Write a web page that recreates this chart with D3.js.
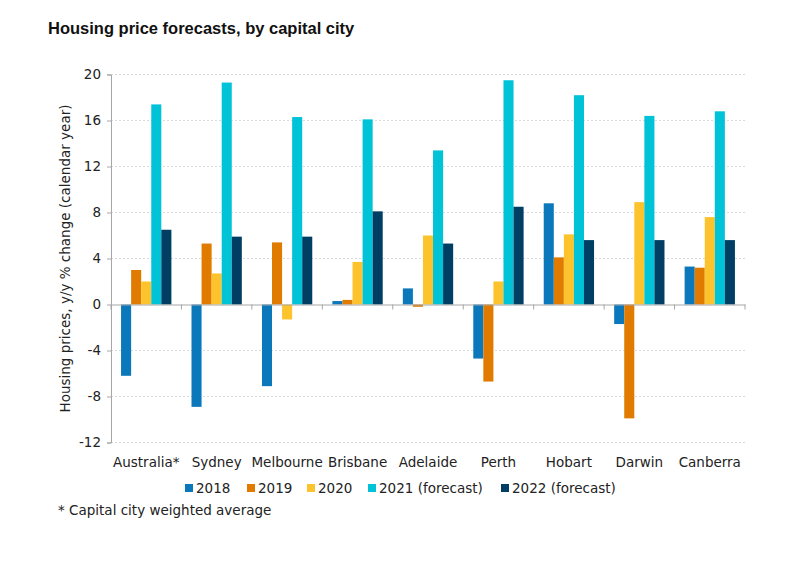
<!DOCTYPE html>
<html>
<head>
<meta charset="utf-8">
<script src="https://cdn.jsdelivr.net/npm/d3@7"></script>
<style>
body { margin: 0; background: #fff; }
svg { display: block; }
</style>
</head>
<body>
<div id="chart"></div>
<script>
var cities = ["Australia*", "Sydney", "Melbourne", "Brisbane", "Adelaide", "Perth", "Hobart", "Darwin", "Canberra"];
var seriesNames = ["2018", "2019", "2020", "2021 (forecast)", "2022 (forecast)"];
var v2018 = [-6.2, -8.9, -7.1, 0.3, 1.4, -4.7, 8.8, -1.7, 3.3];
var v2019 = [3.0, 5.3, 5.4, 0.4, -0.2, -6.7, 4.1, -9.9, 3.2];
var v2020 = [2.0, 2.7, -1.3, 3.7, 6.0, 2.0, 6.1, 8.9, 7.6];
var v2021 = [17.4, 19.3, 16.3, 16.1, 13.4, 19.5, 18.2, 16.4, 16.8];
var v2022 = [6.5, 5.9, 5.9, 8.1, 5.3, 8.5, 5.6, 5.6, 5.6];
var yTicks = [-12, -8, -4, 0, 4, 8, 12, 16, 20];
var colors = ["#0a78bb", "#e07b00", "#fcc32d", "#00c3d7", "#003f63"];

var allValues = [v2018, v2019, v2020, v2021, v2022];

var svgWidth = 804;
var svgHeight = 561;
var font = "'DejaVu Sans', Verdana, sans-serif";
var fontSize = "13.5px";

var svg = d3.select("#chart")
    .append("svg")
    .attr("width", svgWidth)
    .attr("height", svgHeight);

var plotLeft = 111, plotRight = 745, plotTop = 74.5, plotBottom = 442.5;

var x0 = d3.scaleBand()
    .domain(cities)
    .range([plotLeft, plotRight])
    .paddingInner(0)
    .paddingOuter(0);

var x1 = d3.scaleBand()
    .domain(seriesNames)
    .range([0, x0.bandwidth()])
    .paddingInner(0)
    .paddingOuter(1);

var y = d3.scaleLinear()
    .domain([-12, 20])
    .range([plotBottom, plotTop]);

// title
svg.append("text")
    .attr("x", 48)
    .attr("y", 34)
    .style("font-family", "'Liberation Sans', Arial, sans-serif")
    .style("font-weight", "bold")
    .style("font-size", "16.5px")
    .attr("fill", "#111")
    .text("Housing price forecasts, by capital city");

// gridlines
svg.append("g")
    .selectAll("line")
    .data(yTicks.filter(d => d !== 0))
    .enter()
    .append("line")
    .attr("x1", plotLeft)
    .attr("x2", plotRight)
    .attr("y1", d => y(d))
    .attr("y2", d => y(d))
    .attr("stroke", "#d6dbe2")
    .attr("stroke-width", 1)
    .attr("stroke-dasharray", "2,2");

// bars
var groups = svg.append("g")
    .selectAll("g")
    .data(cities)
    .enter()
    .append("g")
    .attr("transform", d => `translate(${x0(d)},0)`);

groups.selectAll("rect")
    .data((c, i) => seriesNames.map((s, j) => ({series: s, value: allValues[j][i], idx: j})))
    .enter()
    .append("rect")
    .attr("x", d => x1(d.series))
    .attr("width", x1.bandwidth())
    .attr("y", d => y(Math.max(0, d.value)))
    .attr("height", d => Math.abs(y(d.value) - y(0)))
    .attr("fill", d => colors[d.idx]);

// y axis
var leftAxis = d3.axisLeft(y)
    .tickValues(yTicks)
    .tickSize(4)
    .tickPadding(6)
    .tickFormat(d => String(d));

var yAxisG = svg.append("g")
    .attr("transform", `translate(${plotLeft},0)`)
    .call(leftAxis);
yAxisG.select(".domain").attr("stroke", "#a6a6a6");
yAxisG.selectAll(".tick line").attr("stroke", "#a6a6a6");
yAxisG.selectAll(".tick text")
    .style("font-family", font)
    .style("font-size", fontSize)
    .attr("fill", "#222");

// x axis at zero
var bottomAxis = d3.axisBottom(x0).tickSize(0).tickFormat("");
var xAxisG = svg.append("g")
    .attr("transform", `translate(0,${y(0)})`)
    .call(bottomAxis);
xAxisG.select(".domain").attr("stroke", "#a6a6a6");
xAxisG.selectAll(".tick").remove();

var boundaries = cities.map(c => x0(c)).concat([plotRight]);
xAxisG.selectAll("line.bnd")
    .data(boundaries)
    .enter()
    .append("line")
    .attr("class", "bnd")
    .attr("x1", d => d)
    .attr("x2", d => d)
    .attr("y1", 0)
    .attr("y2", 5)
    .attr("stroke", "#a6a6a6");

// category labels
svg.append("g")
    .selectAll("text")
    .data(cities)
    .enter()
    .append("text")
    .attr("x", d => x0(d) + x0.bandwidth() / 2)
    .attr("y", 467)
    .attr("text-anchor", "middle")
    .style("font-family", font)
    .style("font-size", fontSize)
    .attr("fill", "#222")
    .text(d => d);

// y label
svg.append("text")
    .attr("transform", `translate(70,${(plotTop + plotBottom) / 2}) rotate(-90)`)
    .attr("text-anchor", "middle")
    .style("font-family", font)
    .style("font-size", "13.5px")
    .attr("fill", "#222")
    .text("Housing prices, y/y % change (calendar year)");

// legend
var legendX = [185, 247, 307, 368, 501];
var legend = svg.append("g")
    .selectAll("g")
    .data(seriesNames)
    .enter()
    .append("g")
    .attr("transform", (d, i) => `translate(${legendX[i]},488)`);

legend.append("rect")
    .attr("x", 0)
    .attr("y", -4)
    .attr("width", 8)
    .attr("height", 8)
    .attr("fill", (d, i) => colors[i]);

legend.append("text")
    .attr("x", 11)
    .attr("y", 5)
    .style("font-family", font)
    .style("font-size", fontSize)
    .attr("fill", "#222")
    .text(d => d);

// footnote
svg.append("text")
    .attr("x", 58)
    .attr("y", 515)
    .style("font-family", font)
    .style("font-size", fontSize)
    .attr("fill", "#222")
    .text("* Capital city weighted average");
</script>
</body>
</html>
